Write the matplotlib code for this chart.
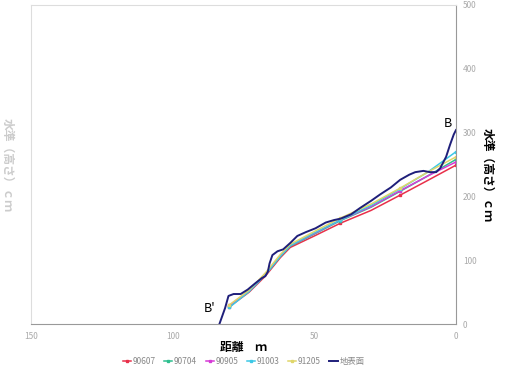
import matplotlib
matplotlib.use("Agg")
import matplotlib.pyplot as plt

plt.rcParams['font.family'] = ['Noto Sans CJK JP', 'DejaVu Sans']

# Data (distance m, level cm)
ground_x = [83.5, 81.5, 80.3, 78.5, 76.0, 73.5, 70.8, 68.5, 67.3, 66.4, 65.8, 64.8, 63.0, 61.0, 58.5, 56.0, 53.0, 49.6, 46.0, 43.0, 40.8, 37.0, 33.8, 30.0, 26.8, 23.0, 19.7, 16.5, 14.4, 11.5, 9.2, 7.0, 5.6, 3.5, 2.1, 0.8, 0.0]
ground_y = [0, 25, 44, 47, 47, 54, 64, 72, 75, 82, 95, 108, 114, 117, 127, 138, 144, 150, 159, 163, 165, 172, 182, 193, 203, 214, 226, 234, 238, 240, 238, 238, 244, 262, 281, 297, 304]

series_x = [80.0, 73.0, 67.3, 62.0, 58.5, 50.0, 40.8, 30.0, 19.7, 10.0, 0.0]
s90607 = [27, 50, 75, 104, 120, 138, 158, 178, 202, 225, 249]
s90704 = [28, 52, 77, 106, 122, 141, 162, 183, 208, 232, 258]
s90905 = [29, 52, 78, 107, 123, 142, 163, 184, 209, 232, 254]
s91003 = [26, 51, 77, 106, 123, 143, 163, 186, 212, 238, 270]
s91205 = [30, 53, 80, 109, 125, 145, 166, 188, 213, 238, 262]

labels = ["90607", "90704", "90905", "91003", "91205", "地表面"]
colors = ["#e8304a", "#2ebf8f", "#d63ad6", "#3cc8e6", "#e0d66a", "#1f1f7a"]

fig = plt.figure(figsize=(5.11, 3.66), dpi=100)
ax = fig.add_axes([31/511, 1-324/366, (456-31)/511, (324-5)/366])

for ys, c, lab in zip([s90607, s90704, s90905, s91003, s91205], colors[:5], labels[:5]):
    ax.plot(series_x, ys, color=c, lw=1.1, marker='s', ms=1.8, markevery=[0, 6, 8, 10], label=lab)
ax.plot(ground_x, ground_y, color=colors[5], lw=1.4, label=labels[5])

ax.set_xlim(150, 0)
ax.set_ylim(0, 500)
ax.set_xticks([150, 100, 50, 0])
ax.set_yticks([0, 100, 200, 300, 400, 500])
ax.yaxis.tick_right()
ax.tick_params(axis='both', length=0, labelsize=6, labelcolor='#aaaaaa')
ax.tick_params(axis='x', pad=6)
ax.tick_params(axis='y', pad=5)
for s in ['left', 'top']:
    ax.spines[s].set_color('#dddddd')
for s in ['right', 'bottom']:
    ax.spines[s].set_color('#999999')

ax.set_xlabel("距離　ｍ", fontsize=8.5, fontweight='bold', labelpad=0)
fig.text(487/511, 1-175/366, "水準（高さ）ｃｍ", rotation=-90, fontsize=8.5,
         fontweight='bold', ha='center', va='center')
fig.text(7/511, 1-165/366, "水準（高さ）ｃｍ", rotation=-90, fontsize=8.5,
         fontweight='bold', ha='center', va='center', color='#cccccc')

fig.text(448/511, 1-123/366, "B", fontsize=9, ha='center', va='center')
fig.text(210/511, 1-309/366, "B'", fontsize=9, ha='center', va='center')

leg = ax.legend(loc='upper center', bbox_to_anchor=(0.5, -0.08), ncol=6, frameon=False,
                fontsize=6, handlelength=1.0, handletextpad=0.2, columnspacing=1.0)
for t in leg.get_texts():
    t.set_color('#888888')

fig.savefig("out.png", dpi=100)
